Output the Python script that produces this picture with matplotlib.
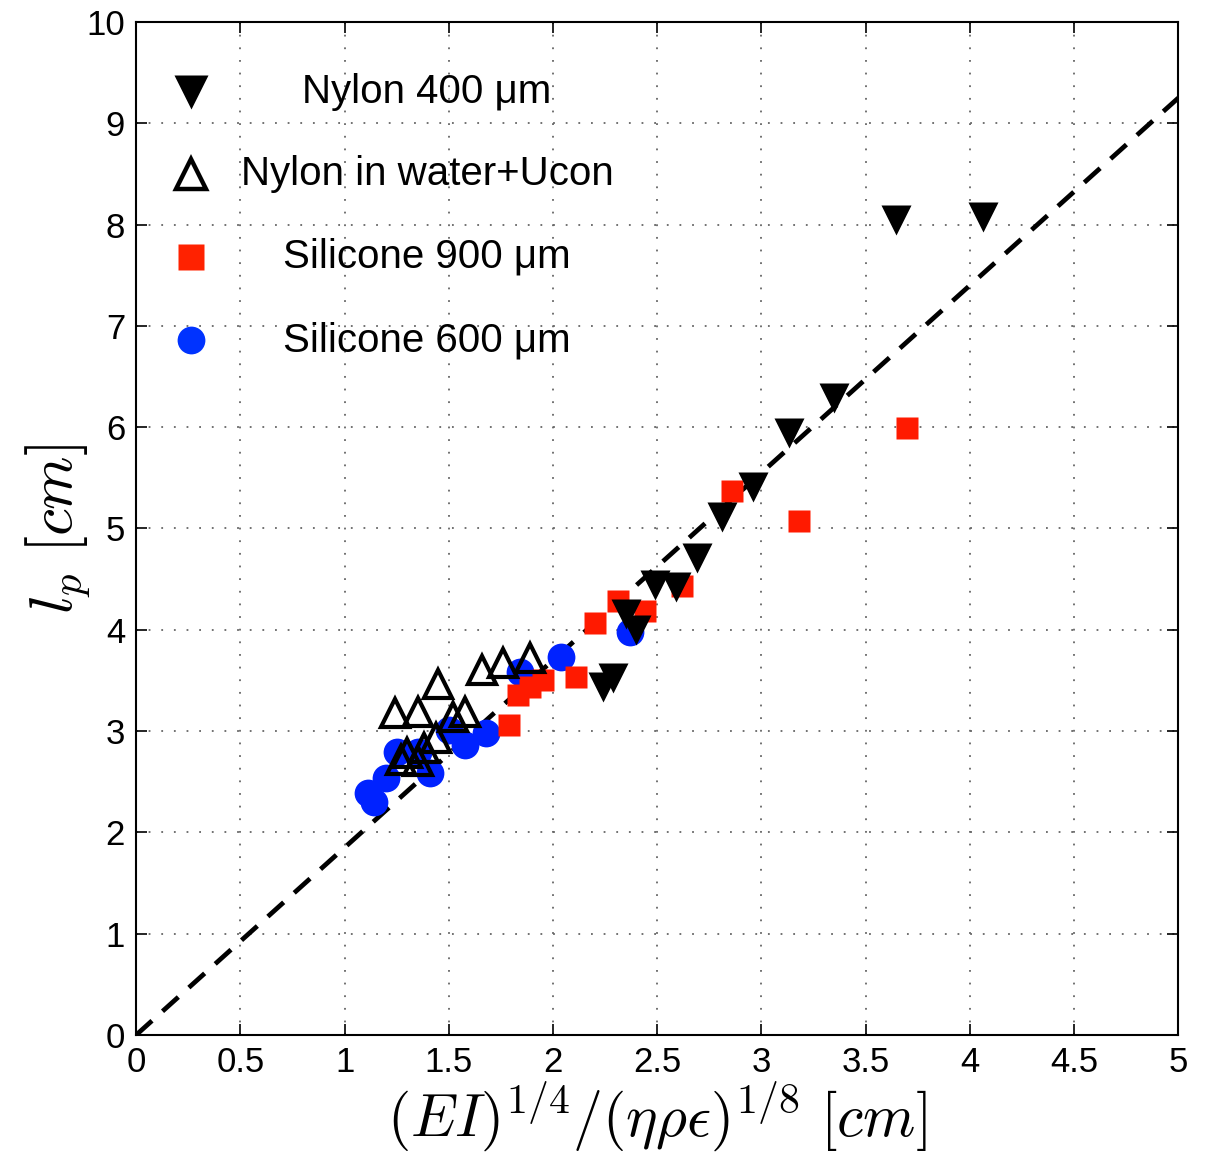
import matplotlib
matplotlib.use("Agg")
import matplotlib.pyplot as plt
import numpy as np

plt.rcParams["font.family"] = ["Liberation Sans", "DejaVu Sans"]
plt.rcParams["mathtext.fontset"] = "cm"

# Nylon 400 um (filled down triangles)
nylon_x = [3.645, 4.064, 3.35, 3.13, 2.96, 2.81, 2.69, 2.59, 2.49, 2.35, 2.40, 2.29, 2.24]
nylon_y = [8.05, 8.07, 6.29, 5.94, 5.41, 5.11, 4.71, 4.42, 4.44, 4.16, 4.00, 3.52, 3.43]

# Nylon in water+Ucon (open up triangles)
ucon_x = [1.89, 1.76, 1.66, 1.45, 1.35, 1.24, 1.58, 1.52, 1.44, 1.38, 1.30, 1.27, 1.35]
ucon_y = [3.72, 3.67, 3.60, 3.46, 3.19, 3.18, 3.19, 3.14, 2.93, 2.83, 2.78, 2.71, 2.70]

# Silicone 900 um (red squares)
sil900_x = [3.70, 3.18, 2.86, 2.62, 2.44, 2.31, 2.20, 2.11, 1.95, 1.89, 1.83, 1.79]
sil900_y = [5.99, 5.07, 5.37, 4.43, 4.19, 4.28, 4.07, 3.53, 3.50, 3.43, 3.36, 3.06]

# Silicone 600 um (blue circles)
sil600_x = [2.37, 2.04, 1.84, 1.68, 1.58, 1.50, 1.41, 1.35, 1.25, 1.20, 1.11, 1.14]
sil600_y = [3.98, 3.73, 3.58, 2.98, 2.86, 3.01, 2.59, 2.79, 2.79, 2.54, 2.39, 2.30]

fit_slope = 1.85

fig = plt.figure(figsize=(12.16, 11.57), dpi=100)
ax = fig.add_axes([0.112, 0.1055, 0.857, 0.8755])

xs = np.array([0, 5])
ax.plot(xs, fit_slope * xs, "k--", lw=3.4, dashes=(4.5, 3), zorder=2)

ax.plot(sil600_x, sil600_y, "o", color="#0022ff", ms=20, mec="none", zorder=3)
ax.plot(sil900_x, sil900_y, "s", color="#ff1a00", ms=16, mec="none", zorder=3)
ax.plot(ucon_x, ucon_y, "^", mfc="none", mec="k", ms=20, mew=3, zorder=4)
ax.plot(nylon_x, nylon_y, "v", color="k", ms=21, mec="none", zorder=4)

# legend drawn by hand: markers on the left, centred labels
leg_labels = ["Nylon 400 μm", "Nylon in water+Ucon", "Silicone 900 μm", "Silicone 600 μm"]
leg_y = [0.931, 0.850, 0.768, 0.686]
leg_style = [
    dict(marker="v", color="k", ms=25, mec="none", ls="none"),
    dict(marker="^", mfc="none", mec="k", ms=21, mew=3.2, ls="none"),
    dict(marker="s", color="#ff2200", ms=19, mec="none", ls="none"),
    dict(marker="o", color="#0033ff", ms=20, mec="none", ls="none"),
]
for lab, yy, st in zip(leg_labels, leg_y, leg_style):
    ax.plot([0.053], [yy], transform=ax.transAxes, clip_on=False, zorder=5, **st)
    ax.text(0.279, yy, lab, transform=ax.transAxes, ha="center", va="center",
            fontsize=29, zorder=5)

ax.set_xlim(0, 5)
ax.set_ylim(0, 10)
ax.set_xticks(np.arange(0, 5.01, 0.5))
ax.set_xticklabels(["0", "0.5", "1", "1.5", "2", "2.5", "3", "3.5", "4", "4.5", "5"])
ax.set_yticks(np.arange(0, 11, 1))
ax.tick_params(direction="in", length=8, width=1.2, top=True, right=True,
               labelsize=25, pad=8)
ax.grid(True, ls=(0, (1, 6)), color="#666666", lw=1.3)
for s in ax.spines.values():
    s.set_linewidth(1.5)

ax.set_xlabel(r"$(EI)^{1/4}/(\eta\rho\epsilon)^{1/8}\ [cm]$", fontsize=43, labelpad=0)
ax.set_ylabel(r"$l_p\ [cm]$", fontsize=44, labelpad=-4)

fig.savefig("out.png", dpi=100)
